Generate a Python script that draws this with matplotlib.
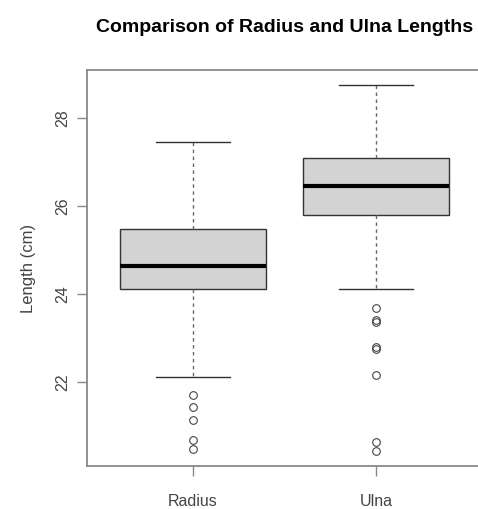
import numpy as np
import matplotlib.pyplot as plt

# values (cm)
groups = ["Radius", "Ulna"]
q1 = [24.11, 25.80]
med = [24.64, 26.45]
q3 = [25.48, 27.09]
whislo = [22.11, 24.11]
whishi = [27.45, 28.75]
radius_out = [21.71, 21.43, 21.14, 20.70, 20.48]
ulna_out = [23.68, 23.42, 23.37, 22.81, 22.75, 22.16, 20.64, 20.43]
y_ticks = [22, 24, 26, 28]


def main():
    plt.rcParams['font.family'] = ['Liberation Sans', 'DejaVu Sans']
    fig = plt.figure(figsize=(4.78, 5.09), dpi=100)
    ax = fig.add_axes([87 / 478, 43 / 509, 395 / 478, 396 / 509])

    stats = []
    for i, name in enumerate(groups):
        stats.append(dict(label=name, q1=q1[i], med=med[i], q3=q3[i],
                          whislo=whislo[i], whishi=whishi[i],
                          fliers=[radius_out, ulna_out][i]))

    edge = "#333333"
    ax.bxp(stats, positions=[1, 2], widths=0.8, patch_artist=True,
           boxprops=dict(facecolor="#d3d3d3", edgecolor=edge, linewidth=1.0),
           medianprops=dict(color="black", linewidth=3.0),
           whiskerprops=dict(color="#666666", linewidth=1.0, linestyle=(0, (2.5, 2.5))),
           capprops=dict(color=edge, linewidth=1.0),
           capwidths=0.4,
           flierprops=dict(marker="o", markersize=5.5, markerfacecolor="none",
                           markeredgecolor="#444444", markeredgewidth=0.8))

    ax.set_xlim(0.42, 2.58)
    ax.set_ylim(20.10, 29.09)
    ax.set_yticks(y_ticks)
    ax.set_yticklabels([str(t) for t in y_ticks], rotation=90, va="center")
    ax.set_xticks([1, 2])
    ax.set_xticklabels(groups)

    for s in ax.spines.values():
        s.set_color("#888888")
        s.set_linewidth(1.3)
    ax.tick_params(axis="both", length=7, width=1.0, color="#888888",
                   labelsize=11.5, labelcolor="#444444")
    ax.tick_params(axis="y", pad=5)
    ax.tick_params(axis="x", pad=13)

    ax.set_ylabel("Length (cm)", fontsize=12, color="#444444", labelpad=14)
    ax.set_title("Comparison of Radius and Ulna Lengths", fontsize=14,
                 fontweight="bold", pad=27, x=0.5)

    fig.savefig("out.png", dpi=100)


if __name__ == "__main__":
    main()
